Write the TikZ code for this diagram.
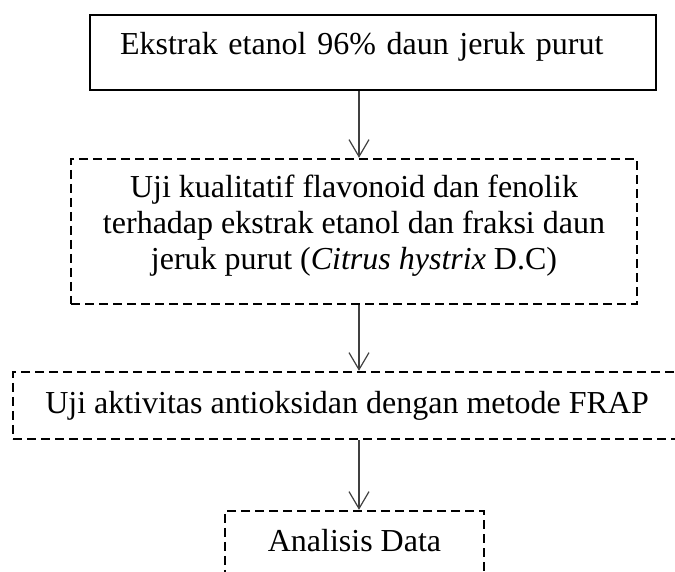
\documentclass[tikz,border=0pt]{standalone}
\usepackage{fontspec}
\setmainfont{Liberation Serif}
\usetikzlibrary{arrows.meta}
\begin{document}
\begin{tikzpicture}[
        x=1pt, y=1pt,
        font=\fontsize{32}{36}\selectfont,
        box/.style={draw, line width=2.4pt, align=center, inner sep=0pt},
        dashbox/.style={box, dash pattern=on 9pt off 5pt},
        arrow/.style={-{Straight Barb[length=17pt, width=20pt]}, line width=1.2pt, draw=black!75}
      ]
      \useasboundingbox (0,0) rectangle (675,572);
      \node[box, minimum width=566pt, minimum height=75pt, text width=506pt, inner xsep=30pt,
            align=left, text height=22pt, text depth=17pt] (ekstrak) at (373,519.5)
            {Ekstrak etanol 96\% daun jeruk purut};
      \node[dashbox, minimum width=566pt, minimum height=145pt, text height=93pt, text depth=16pt] (kualitatif) at (354,340.5)
            {Uji kualitatif flavonoid dan fenolik\\terhadap ekstrak etanol dan fraksi daun\\jeruk purut (\textit{Citrus hystrix} D.C)};
      \node[dashbox, minimum width=668pt, minimum height=67pt] (frap) at (347,166.5)
            {Uji aktivitas antioksidan dengan metode FRAP};
      \node[dashbox, minimum width=259pt, minimum height=67pt, text height=22pt, text depth=7pt] (analisis) at (354.5,27.5)
            {Analisis Data};

      \coordinate (axis) at (359,0);
      \draw[arrow] (ekstrak.south -| axis) -- (kualitatif.north -| axis);
      \draw[arrow] (kualitatif.south -| axis) -- (frap.north -| axis);
      \draw[arrow] (frap.south -| axis) -- (analisis.north -| axis);
    \end{tikzpicture}
\end{document}
